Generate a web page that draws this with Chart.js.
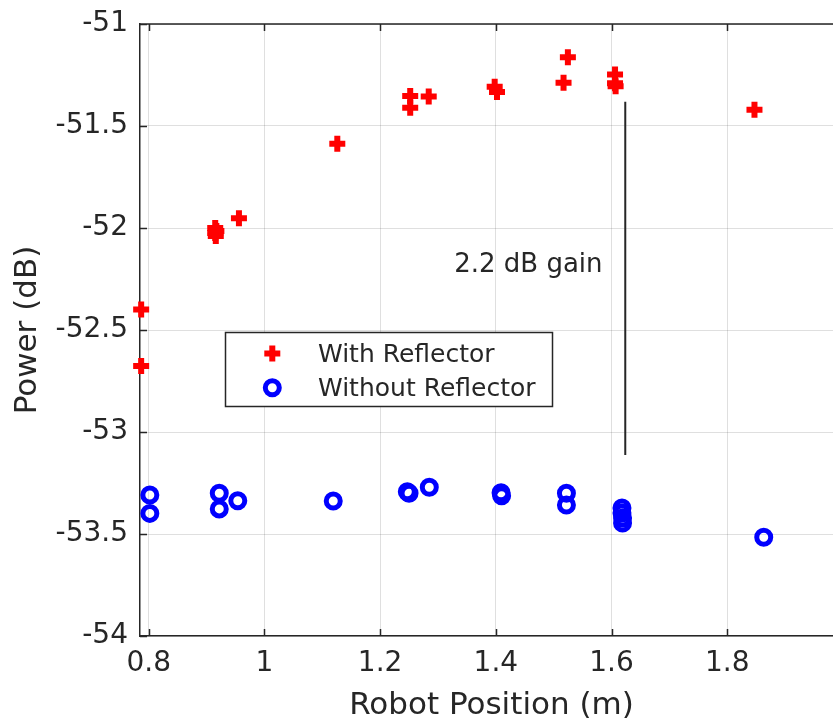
<!DOCTYPE html>
<html>
<head>
<meta charset="utf-8">
<script src="https://cdn.jsdelivr.net/npm/chart.js@4.4.1/dist/chart.umd.min.js"></script>
<style>
  html, body { margin: 0; padding: 0; overflow: hidden; background: #ffffff; }
  canvas { display: block; }
</style>
</head>
<body>
<canvas id="c" width="843" height="721"></canvas>
<script>
// Received power vs. robot position, with and without the reflector
const seriesNames = ['With Reflector', 'Without Reflector'];

const withX = [0.787, 0.787, 0.915, 0.917, 0.915, 0.916, 0.956, 1.126, 1.252, 1.252,
               1.284, 1.398, 1.402, 1.517, 1.5245, 1.606, 1.606, 1.607, 1.847];
const withY = [-52.399, -52.676, -52.000, -52.015, -52.025, -52.039, -51.952, -51.587, -51.353, -51.410,
               -51.356, -51.307, -51.333, -51.288, -51.163, -51.247, -51.290, -51.305, -51.420];

const withoutX = [0.802, 0.802, 0.922, 0.922, 0.954, 1.119, 1.247, 1.250, 1.285, 1.409,
                  1.410, 1.522, 1.522, 1.618, 1.618, 1.619, 1.619, 1.863];
const withoutY = [-53.309, -53.399, -53.300, -53.377, -53.337, -53.338, -53.293, -53.300, -53.271, -53.298,
                  -53.313, -53.300, -53.358, -53.373, -53.397, -53.422, -53.446, -53.516];

// vertical marker spanning the gap between the two series
const gainLineX = [1.6237, 1.6237];
const gainLineY = [-51.381, -53.113];
const gainText = '2.2 dB gain';
const gainTextAt = { x: 1.328, y: -52.214 };

const xTicks = [0.8, 1, 1.2, 1.4, 1.6, 1.8];
const yTicks = [-54, -53.5, -53, -52.5, -52, -51.5, -51];

const INK = '#262626';
const GRID = 'rgba(38,38,38,0.15)';
const FONT = '"DejaVu Sans", "Liberation Sans", sans-serif';
const RED = '#ff0000';
const BLUE = '#0000ff';

const pts = (xs, ys) => xs.map((x, i) => ({ x: x, y: ys[i] }));

// axes box, inward tick marks, annotation text and the boxed legend
const framePlugin = {
  id: 'frame',
  beforeDatasetsDraw(chart) {
    const { ctx, chartArea: a, scales: { x, y } } = chart;
    const tl = 7;
    ctx.save();
    ctx.strokeStyle = INK;
    ctx.lineWidth = 1.5;
    ctx.beginPath();
    ctx.moveTo(a.left, a.top);
    ctx.lineTo(a.right, a.top);
    xTicks.forEach(v => {
      const px = Math.round(x.getPixelForValue(v)) + 0.5;
      ctx.moveTo(px, a.bottom); ctx.lineTo(px, a.bottom - tl);
      ctx.moveTo(px, a.top); ctx.lineTo(px, a.top + tl);
    });
    yTicks.forEach(v => {
      const py = Math.round(y.getPixelForValue(v)) + 0.5;
      ctx.moveTo(a.left, py); ctx.lineTo(a.left + tl, py);
    });
    ctx.stroke();
    ctx.restore();
  },
  afterDatasetsDraw(chart) {
    const { ctx, scales: { x, y } } = chart;
    ctx.save();
    // annotation
    ctx.fillStyle = INK;
    ctx.font = '26px ' + FONT;
    ctx.textAlign = 'left';
    ctx.textBaseline = 'alphabetic';
    ctx.fillText(gainText, x.getPixelForValue(gainTextAt.x), y.getPixelForValue(gainTextAt.y));

    // legend
    const box = { left: 225.5, top: 332.5, width: 327, height: 74 };
    ctx.fillStyle = '#ffffff';
    ctx.fillRect(box.left, box.top, box.width, box.height);
    ctx.strokeStyle = INK;
    ctx.lineWidth = 1.5;
    ctx.strokeRect(box.left, box.top, box.width, box.height);
    const rows = [
      { cy: 353.5, base: 361.7, ds: chart.data.datasets[0] },
      { cy: 387.7, base: 395.7, ds: chart.data.datasets[1] }
    ];
    rows.forEach(r => {
      ctx.save();
      ctx.strokeStyle = r.ds.borderColor;
      ctx.fillStyle = r.ds.backgroundColor;
      ctx.lineWidth = r.ds.pointBorderWidth;
      Chart.helpers.drawPoint(ctx, {
        pointStyle: r.ds.pointStyle,
        radius: r.ds.pointRadius,
        borderWidth: r.ds.pointBorderWidth,
        rotation: 0
      }, 272.3, r.cy);
      ctx.restore();
      ctx.fillStyle = INK;
      ctx.font = '25px ' + FONT;
      ctx.textAlign = 'left';
      ctx.textBaseline = 'alphabetic';
      ctx.fillText(r.ds.label, 318, r.base);
    });
    ctx.restore();
  }
};

new Chart(document.getElementById('c'), {
  type: 'scatter',
  data: {
    datasets: [
      {
        label: seriesNames[0],
        data: pts(withX, withY),
        pointStyle: 'cross',
        pointRadius: 8,
        pointBorderWidth: 6,
        borderColor: RED,
        backgroundColor: RED,
        clip: false
      },
      {
        label: seriesNames[1],
        data: pts(withoutX, withoutY),
        pointStyle: 'circle',
        pointRadius: 7,
        pointBorderWidth: 5,
        borderColor: BLUE,
        backgroundColor: 'rgba(0,0,0,0)',
        clip: false
      },
      {
        label: 'gain',
        data: pts(gainLineX, gainLineY),
        showLine: true,
        borderColor: INK,
        borderWidth: 2,
        pointRadius: 0,
        clip: false
      }
    ]
  },
  options: {
    responsive: false,
    animation: false,
    events: [],
    layout: { autoPadding: false, padding: { top: 24, right: 0, left: 0, bottom: 0 } },
    plugins: { legend: { display: false }, tooltip: { enabled: false } },
    scales: {
      x: {
        type: 'linear',
        min: 0.785,
        max: 2.0,
        afterFit(s) { s.height = 85; s.paddingLeft = 0; s.paddingRight = 0; },
        afterBuildTicks(s) { s.ticks = xTicks.map(v => ({ value: v })); },
        grid: { color: GRID, lineWidth: 1, drawTicks: false },
        border: { color: INK, width: 1.5 },
        ticks: {
          font: { family: FONT, size: 28 },
          color: INK,
          padding: 11,
          maxRotation: 0,
          autoSkip: false,
          callback: v => String(v)
        },
        title: {
          display: true,
          text: 'Robot Position (m)',
          font: { family: FONT, size: 31, lineHeight: 1 },
          color: INK,
          padding: { top: 0, bottom: 0 }
        }
      },
      y: {
        type: 'linear',
        min: -54,
        max: -51,
        afterFit(s) { s.width = 140; s.paddingTop = 0; s.paddingBottom = 0; },
        afterBuildTicks(s) { s.ticks = yTicks.map(v => ({ value: v })); },
        grid: { color: GRID, lineWidth: 1, drawTicks: false },
        border: { color: INK, width: 1.5 },
        ticks: {
          font: { family: FONT, size: 28 },
          color: INK,
          padding: 12,
          autoSkip: false,
          callback: v => String(v)
        },
        title: {
          display: true,
          text: 'Power (dB)',
          font: { family: FONT, size: 31, lineHeight: 1 },
          color: INK,
          padding: { top: 12, bottom: 0 }
        }
      }
    }
  },
  plugins: [framePlugin]
});
</script>
</body>
</html>
